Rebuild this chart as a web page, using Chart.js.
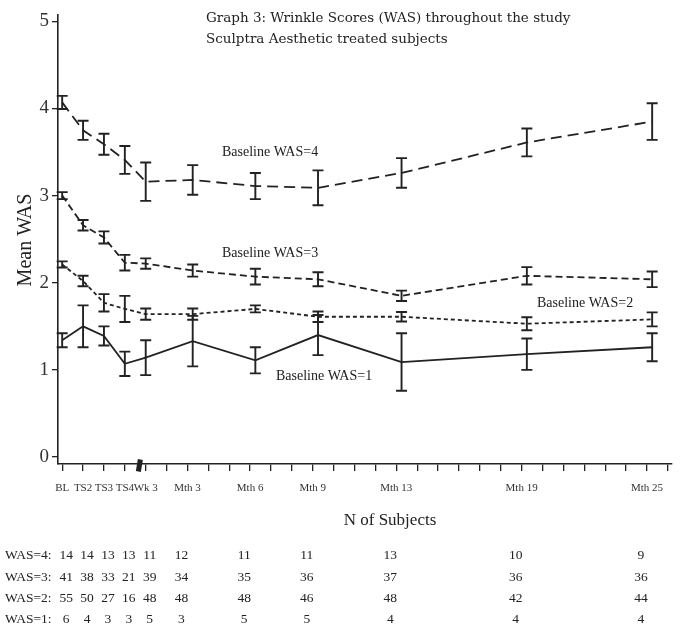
<!DOCTYPE html>
<html><head><meta charset="utf-8">
<script src="https://cdn.jsdelivr.net/npm/chart.js@4.4.0/dist/chart.umd.min.js"></script>
<style>html,body{margin:0;padding:0;background:#fff;overflow:hidden}#wrap{position:relative;width:681px;height:629px}</style>
</head><body><div id="wrap"><canvas id="c" width="681" height="629"></canvas></div>
<script>
// ---- data ----
const visitLabels = ['BL','TS2','TS3','TS4','Wk 3','Mth 3','Mth 6','Mth 9','Mth 13','Mth 19','Mth 25'];
const tickValues  = [0,1,2,3,4,6,9,12,16,22,28];
const visitX      = [0,1,2,3,4,6.25,9.25,12.25,16.25,22.25,28.25];
const yTicks      = [0,1,2,3,4,5];

const meanWAS4 = [4.07,3.75,3.59,3.41,3.16,3.18,3.11,3.09,3.26,3.61,3.85];
const semWAS4  = [0.075,0.11,0.12,0.16,0.22,0.17,0.15,0.20,0.17,0.16,0.21];
const meanWAS3 = [3.00,2.66,2.52,2.23,2.22,2.14,2.07,2.04,1.85,2.08,2.04];
const semWAS3  = [0.04,0.06,0.07,0.09,0.06,0.07,0.09,0.08,0.06,0.10,0.09];
const meanWAS2 = [2.21,2.02,1.77,1.70,1.64,1.64,1.70,1.61,1.61,1.53,1.58];
const semWAS2  = [0.035,0.06,0.10,0.15,0.065,0.065,0.04,0.06,0.055,0.075,0.08];
const meanWAS1 = [1.34,1.50,1.39,1.07,1.14,1.33,1.11,1.40,1.09,1.18,1.26];
const semWAS1  = [0.08,0.24,0.11,0.14,0.20,0.29,0.15,0.23,0.33,0.18,0.16];

const nWAS4 = [14,14,13,13,11,12,11,11,13,10,9];
const nWAS3 = [41,38,33,21,39,34,35,36,37,36,36];
const nWAS2 = [55,50,27,16,48,48,48,46,48,42,44];
const nWAS1 = [6,4,3,3,5,3,5,5,4,4,4];
const tableRows = [['WAS=4:',nWAS4],['WAS=3:',nWAS3],['WAS=2:',nWAS2],['WAS=1:',nWAS1]];

const titleLines = ['Graph 3: Wrinkle Scores (WAS) throughout the study','Sculptra Aesthetic treated subjects'];
const seriesNames = ['Baseline WAS=4','Baseline WAS=3','Baseline WAS=2','Baseline WAS=1'];

const INK = '#222';
function pts(means){ return visitX.map((x,i)=>({x:x,y:means[i]})); }
function ds(name, means, sems, dash){
  return {label:name, data:pts(means), sem:sems, borderColor:INK, borderWidth:1.8,
          borderDash:dash, pointRadius:0, fill:false, tension:0};
}

const errorBars = {
  id:'errorBars',
  afterDatasetsDraw(chart){
    const ctx = chart.ctx, xs = chart.scales.x, ys = chart.scales.y;
    ctx.save(); ctx.strokeStyle = INK; ctx.lineWidth = 1.9; ctx.setLineDash([]);
    chart.data.datasets.forEach(d=>{
      d.data.forEach((p,i)=>{
        const px = xs.getPixelForValue(p.x);
        const top = ys.getPixelForValue(p.y + d.sem[i]);
        const bot = ys.getPixelForValue(p.y - d.sem[i]);
        ctx.beginPath();
        ctx.moveTo(px, top); ctx.lineTo(px, bot);
        ctx.moveTo(px-5.5, top); ctx.lineTo(px+5.5, top);
        ctx.moveTo(px-5.5, bot); ctx.lineTo(px+5.5, bot);
        ctx.stroke();
      });
    });
    ctx.restore();
  }
};

const texts = {
  id:'texts',
  afterDraw(chart){
    const ctx = chart.ctx, xs = chart.scales.x, area = chart.chartArea;
    ctx.save();
    ctx.fillStyle = INK;
    // title
    ctx.font = '13.5px "DejaVu Serif"'; ctx.textAlign='left'; ctx.textBaseline='middle';
    ctx.fillText(titleLines[0], 206, 18);
    ctx.fillText(titleLines[1], 206, 39);
    // y title
    ctx.save(); ctx.translate(26, 240); ctx.rotate(-Math.PI/2);
    ctx.font = '20px "Liberation Serif"'; ctx.textAlign='center'; ctx.textBaseline='middle';
    ctx.fillText('Mean WAS', 0, 0); ctx.restore();
    // series annotations
    ctx.font = '14px "Liberation Serif"'; ctx.textAlign='left'; ctx.textBaseline='middle';
    ctx.fillText(seriesNames[0], 222, 152);
    ctx.fillText(seriesNames[1], 222, 253);
    ctx.fillText(seriesNames[2], 537, 303);
    ctx.fillText(seriesNames[3], 276, 376);
    // axis break mark
    const bx = xs.getPixelForValue(3.72), by = area.bottom;
    ctx.beginPath();
    ctx.moveTo(bx-4, by+7); ctx.lineTo(bx-2, by-5); ctx.lineTo(bx+3, by-4); ctx.lineTo(bx+1, by+8);
    ctx.closePath(); ctx.fill();
    // N of subjects
    ctx.font = '17px "Liberation Serif"'; ctx.textAlign='center';
    ctx.fillText('N of Subjects', 390, 521);
    // table
    ctx.font = '13.5px "Liberation Serif"';
    const rowY = [555,577,598,619];
    tableRows.forEach((r,ri)=>{
      ctx.textAlign='left';
      ctx.fillText(r[0], 5, rowY[ri]);
      ctx.textAlign='center';
      r[1].forEach((n,ci)=>{
        const cx = xs.getPixelForValue(tickValues[ci]) + (ci<5 ? 4 : -6);
        ctx.fillText(String(n), cx, rowY[ri]);
      });
    });
    ctx.restore();
  }
};

new Chart(document.getElementById('c'), {
  type:'line',
  data:{datasets:[
    ds(seriesNames[0], meanWAS4, semWAS4, [11,6]),
    ds(seriesNames[1], meanWAS3, semWAS3, [7,4]),
    ds(seriesNames[2], meanWAS2, semWAS2, [4,3]),
    ds(seriesNames[3], meanWAS1, semWAS1, [])
  ]},
  options:{
    responsive:false, animation:false, devicePixelRatio:1,
    layout:{padding:{top:12,right:9,bottom:135,left:0}},
    plugins:{legend:{display:false}, tooltip:{enabled:false}, title:{display:false}},
    scales:{
      x:{type:'linear', min:-0.2, max:29.2,
         afterBuildTicks(s){ s.ticks = Array.from({length:30},(_,i)=>({value:i})); },
         afterFit(s){ s.height = 30; },
         ticks:{autoSkip:false, maxRotation:0, minRotation:0, padding:11, color:'#333',
                font:{family:'Liberation Serif', size:11},
                callback(v){ const k = tickValues.indexOf(v); return k>=0 ? visitLabels[k] : ''; }},
         grid:{drawOnChartArea:false, drawTicks:true, tickLength:7, color:INK, lineWidth:1.3},
         border:{display:true, color:INK, width:1.6}},
      y:{type:'linear', min:-0.08, max:5.08,
         afterBuildTicks(s){ s.ticks = yTicks.map(v=>({value:v})); },
         afterFit(s){ s.width = 58; },
         ticks:{padding:3, color:'#333', font:{family:'Liberation Serif', size:19},
                callback(v){ return String(v); }},
         grid:{drawOnChartArea:false, drawTicks:true, tickLength:6, color:INK, lineWidth:1.3},
         border:{display:true, color:INK, width:1.6}}
    }
  },
  plugins:[errorBars, texts]
});
</script></body></html>
